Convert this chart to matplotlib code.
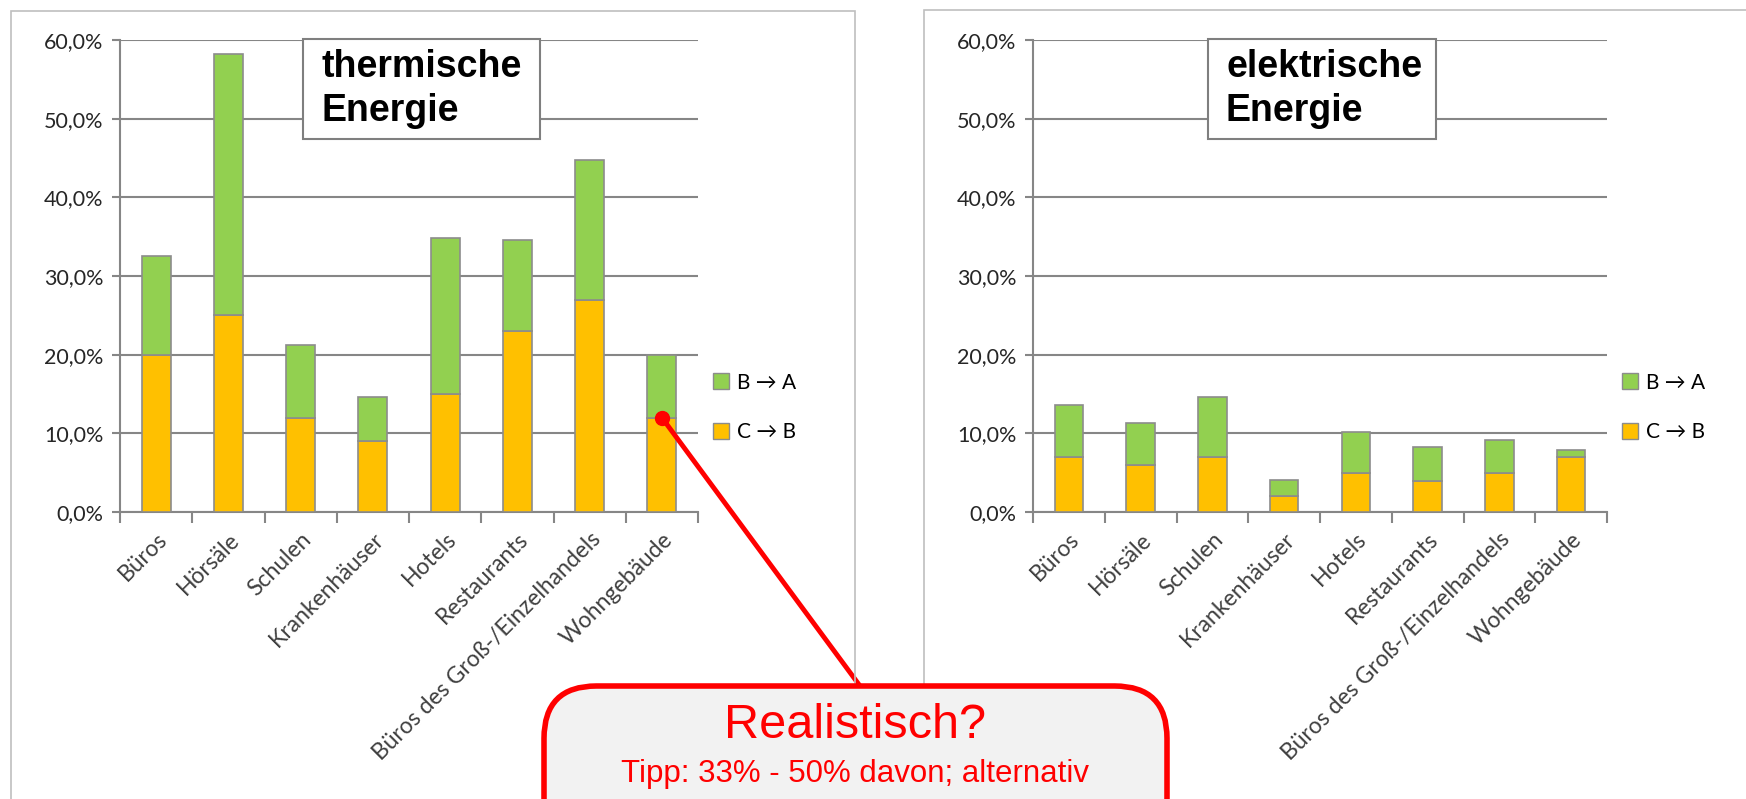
import matplotlib.pyplot as plt
from matplotlib.patches import Patch, Rectangle, FancyBboxPatch
from matplotlib.ticker import FuncFormatter, FixedLocator

# data (percent)
categories = ["Büros", "Hörsäle", "Schulen", "Krankenhäuser", "Hotels",
              "Restaurants", "Büros des Groß-/Einzelhandels", "Wohngebäude"]
therm_cb = [20, 25, 12, 9, 15, 23, 27, 12]
therm_ba = [12.5, 33.2, 9.2, 5.6, 19.8, 11.6, 17.8, 7.9]
elek_cb = [7, 6, 7, 2, 5, 4, 5, 7]
elek_ba = [6.6, 5.3, 7.6, 2.1, 5.2, 4.2, 4.2, 0.9]
series_labels = ["B \u2192 A", "C \u2192 B"]
titles = ["thermische\nEnergie", "elektrische\nEnergie"]

green = "#92D050"
orange = "#FFC000"
edge = "#8C8C8C"
grid = "#868686"
lab_font = ["Lato", "DejaVu Sans"]

W, H = 1746, 799
fig = plt.figure(figsize=(W / 100, H / 100), dpi=100)

def fx(px):
    return px / W

def fy(py):
    return 1 - py / H

# outer chart frames
fig.patches.append(Rectangle((fx(11), fy(900)), fx(855 - 11), fy(11) - fy(900),
                             transform=fig.transFigure, fill=False, ec="#BFBFBF", lw=1.2))
fig.patches.append(Rectangle((fx(924), fy(900)), fx(1000), fy(10) - fy(900),
                             transform=fig.transFigure, fill=False, ec="#BFBFBF", lw=1.2))

panels = [
    (120, 698, therm_cb, therm_ba, titles[0], (303, 540)),
    (1033, 1607, elek_cb, elek_ba, titles[1], (1208, 1436)),
]
axes = []
for x0, x1, cb, ba, title, (bx0, bx1) in panels:
    ax = fig.add_axes([fx(x0), fy(512), fx(x1 - x0), fy(40) - fy(512)])
    axes.append(ax)
    xs = list(range(len(categories)))
    ax.bar(xs, cb, width=0.4, color=orange, edgecolor=edge, lw=1.2, zorder=3)
    ax.bar(xs, ba, bottom=cb, width=0.4, color=green, edgecolor=edge, lw=1.2, zorder=3)
    ax.set_xlim(-0.5, len(categories) - 0.5)
    ax.set_ylim(0, 60)
    ax.set_yticks([0, 10, 20, 30, 40, 50, 60])
    ax.yaxis.set_major_formatter(FuncFormatter(lambda v, p: f"{v:.1f}%".replace(".", ",")))
    ax.grid(axis="y", color=grid, lw=1.5, zorder=0)
    for s in ["top", "right"]:
        ax.spines[s].set_visible(False)
    for s in ["left", "bottom"]:
        ax.spines[s].set_color(grid)
        ax.spines[s].set_linewidth(1.5)
    ax.set_xticks(xs)
    ax.set_xticklabels(categories, rotation=45, ha="right", rotation_mode="anchor",
                       fontsize=16.5, family=lab_font, color="#404040")
    ax.tick_params(axis="x", length=0, pad=12)
    ax.xaxis.set_minor_locator(FixedLocator([i - 0.5 for i in range(len(categories) + 1)]))
    ax.tick_params(axis="x", which="minor", length=8, width=1.5, color=grid)
    ax.tick_params(axis="y", length=6, width=1.5, color=grid, labelsize=15.5,
                   labelcolor="#262626", pad=6)
    for t in ax.get_yticklabels():
        t.set_family(lab_font)
    handles = [Patch(fc=green, ec=edge), Patch(fc=orange, ec=edge)]
    ax.legend(handles, series_labels, loc="center left", bbox_to_anchor=(1.0, 0.222),
              frameon=False, prop={"family": lab_font, "size": 15}, borderaxespad=0.3,
              handlelength=0.8, handleheight=0.8, handletextpad=0.35, labelspacing=1.4)
    # title box
    fig.patches.append(Rectangle((fx(bx0), fy(139)), fx(bx1 - bx0), fy(39) - fy(139),
                                 transform=fig.transFigure, fc="white", ec="#7F7F7F",
                                 lw=1.5, zorder=5))
    fig.text(fx(bx0 + 18), fy(89), title, fontsize=27, fontweight="bold",
             family="Liberation Sans", va="center", ha="left", linespacing=1.3, zorder=6)

# callout box
box = FancyBboxPatch((fx(544), fy(860)), fx(1167 - 544), fy(686) - fy(860),
                     boxstyle="round,pad=0,rounding_size=0.03",
                     transform=fig.transFigure, fc="#F2F2F2", ec="red", lw=4, zorder=10,
                     mutation_aspect=W / H)
fig.patches.append(box)
fig.text(fx(855), fy(726), "Realistisch?", fontsize=35, color="red",
         family="Liberation Sans", ha="center", va="center", zorder=11)
fig.text(fx(855), fy(774), "Tipp: 33% - 50% davon; alternativ", fontsize=22.5, color="red",
         family="Liberation Sans", ha="center", va="center", zorder=11)

# pointer from the Wohngebäude bar to the callout
ax = axes[0]
ax.annotate("", xy=(7, 12), xycoords="data", xytext=(fx(860), fy(686)),
            textcoords="figure fraction", annotation_clip=False,
            arrowprops=dict(arrowstyle="-", color="red", lw=3.5, shrinkA=0, shrinkB=0),
            zorder=9)
ax.plot([7], [12], "o", color="red", ms=10, clip_on=False, zorder=9)

fig.savefig("out.png", dpi=100)
